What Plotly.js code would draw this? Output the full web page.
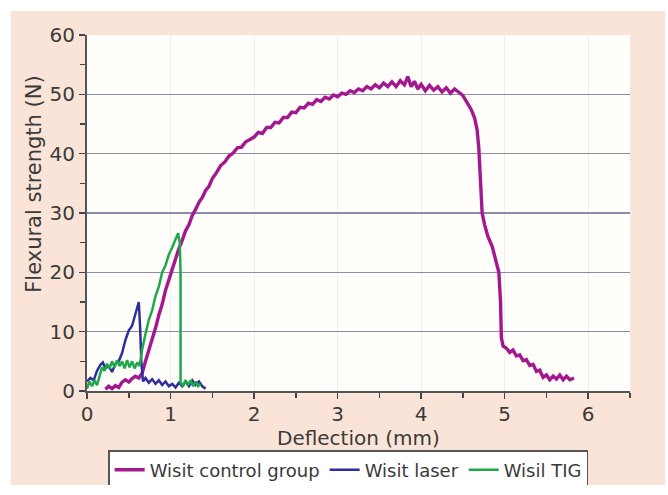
<!DOCTYPE html>
<html>
<head>
<meta charset="utf-8">
<script src="https://cdn.plot.ly/plotly-3.0.1.min.js"></script>
<style>
html,body{margin:0;padding:0;background:#ffffff;width:668px;height:495px;overflow:hidden;}
#chart{position:absolute;left:11px;top:11px;width:654px;height:474px;}
</style>
</head>
<body>
<div id="chart"></div>
<script>
// Wisit control group (magenta)
const ctrlX = [0.22,0.26,0.30,0.34,0.38,0.42,0.46,0.50,0.54,0.58,0.62,0.66,0.70,0.74,0.78,0.82,0.86,0.90,0.94,0.98,
1.02,1.06,1.10,1.14,1.18,1.22,1.26,1.30,1.34,1.38,1.42,1.46,1.50,1.55,1.60,1.65,1.70,1.75,1.80,1.85,1.90,1.95,
2.00,2.05,2.10,2.15,2.20,2.25,2.30,2.35,2.40,2.45,2.50,2.55,2.60,2.65,2.70,2.75,2.80,2.85,2.90,2.95,
3.00,3.05,3.10,3.15,3.20,3.25,3.30,3.35,3.40,3.45,3.50,3.55,3.60,3.65,3.70,3.75,3.80,3.84,3.88,3.92,3.96,
4.00,4.05,4.10,4.15,4.20,4.25,4.30,4.35,4.40,4.45,4.50,4.55,4.60,4.64,4.67,4.69,4.71,4.73,4.76,4.80,4.85,4.89,4.93,4.95,4.96,4.98,
5.02,5.06,5.10,5.14,5.18,5.22,5.26,5.30,5.34,5.38,5.42,5.46,5.50,5.54,5.58,5.62,5.66,5.70,5.74,5.78,5.83];
const ctrlY = [0.3,0.8,0.4,0.9,0.6,1.5,1.9,1.5,2.1,2.5,2.2,3.0,5.0,6.8,9.0,10.6,12.8,14.6,17.0,18.8,
20.6,22.0,24.0,25.4,27.0,28.0,29.6,30.6,31.8,32.6,33.8,34.5,35.8,36.8,38.0,38.6,39.6,40.1,41.0,41.1,42.0,42.4,
42.8,43.6,43.4,44.4,44.4,45.3,45.2,46.1,46.1,47.0,46.9,47.8,47.7,48.5,48.3,49.1,48.8,49.5,49.2,49.9,
49.6,50.2,50.0,50.6,50.3,50.9,50.6,51.3,50.9,51.6,51.1,51.9,51.3,52.1,51.3,52.3,51.6,53.0,51.3,52.2,50.9,
51.7,50.6,51.5,50.7,51.3,50.4,51.1,50.2,50.9,50.4,49.8,48.6,47.4,46.0,44.0,41.0,36.0,30.0,28.0,26.0,24.4,22.2,20.0,15.0,9.0,7.6,
7.2,6.5,6.9,5.9,6.1,5.1,5.3,4.3,4.5,3.3,3.5,2.3,2.7,1.9,2.5,2.0,2.7,1.9,2.5,1.9,2.2];

// Wisit laser (blue)
const laserX = [0.00,0.04,0.08,0.12,0.16,0.19,0.22,0.26,0.30,0.34,0.38,0.42,0.46,0.50,0.54,0.57,0.60,0.62,0.635,0.65,0.67,
0.70,0.74,0.78,0.82,0.86,0.90,0.94,0.98,1.02,1.06,1.10,1.14,1.18,1.22,1.26,1.30,1.34,1.38,1.42];
const laserY = [1.6,2.2,1.8,3.4,4.4,4.8,3.8,4.2,3.2,4.6,5.0,6.4,8.6,10.2,11.0,12.6,14.2,15.0,11.0,5.0,1.6,
2.2,1.4,2.0,1.2,1.8,1.0,1.6,0.8,1.2,0.6,1.4,0.8,1.6,0.8,1.8,1.0,1.6,0.8,0.4];

// Wisil TIG (green)
const tigX = [0.00,0.03,0.06,0.09,0.12,0.15,0.18,0.21,0.24,0.27,0.30,0.33,0.36,0.39,0.42,0.45,0.48,0.51,0.54,0.57,0.60,0.63,
0.66,0.70,0.74,0.78,0.82,0.86,0.90,0.94,0.98,1.02,1.06,1.09,1.11,1.12,1.12,1.15,1.18,1.21,1.24,1.27,1.30,1.33,1.36];
const tigY = [0.4,1.6,0.8,1.8,1.0,2.6,4.0,3.4,4.6,3.8,5.0,4.0,5.2,4.2,5.0,3.8,5.2,4.0,5.0,3.8,4.8,4.2,
7.0,9.6,12.0,13.6,16.0,17.6,20.0,21.2,23.0,24.2,25.6,26.6,25.0,20.0,1.4,0.8,1.8,1.0,1.8,0.8,1.6,0.8,1.2];

const seriesNames = ["Wisit control group","Wisit laser","Wisil TIG"];
const xTickVals = [0,1,2,3,4,5,6];
const yTickVals = [0,10,20,30,40,50,60];

const FONT = "DejaVu Sans, Arial, sans-serif";
const traces = [
  {x: ctrlX, y: ctrlY, name: seriesNames[0], type: "scatter", mode: "lines",
   line: {color: "#a4188f", width: 3.4}},
  {x: laserX, y: laserY, name: seriesNames[1], type: "scatter", mode: "lines",
   line: {color: "#2f2f9a", width: 2.5}},
  {x: tigX, y: tigY, name: seriesNames[2], type: "scatter", mode: "lines",
   line: {color: "#1fa84a", width: 2.5}}
];

const layout = {
  width: 654, height: 474,
  margin: {l: 76, r: 35, t: 24, b: 93.5, autoexpand: false},
  paper_bgcolor: "#fae4d7",
  plot_bgcolor: "#fffefb",
  font: {family: FONT, color: "#3a3a3a", size: 20},
  showlegend: true,
  legend: {
    orientation: "h", x: 0.039, xanchor: "left", y: -0.166, yanchor: "top",
    bgcolor: "#ffffff", bordercolor: "#555555", borderwidth: 1.5,
    font: {family: FONT, size: 18, color: "#3a3a3a"},
    traceorder: "normal", itemwidth: 30
  },
  xaxis: {
    range: [0, 6.5], tickvals: xTickVals, ticktext: xTickVals.map(String),
    ticks: "outside", ticklen: 6, tickwidth: 1.5, tickcolor: "#444",
    minor: {dtick: 0.5, ticks: "outside", ticklen: 5, tickwidth: 1.5, tickcolor: "#444", showgrid: false},
    showline: true, linecolor: "#555", linewidth: 2, ticklabelstandoff: -2,
    showgrid: true, gridcolor: "#f1efee", gridwidth: 1,
    zeroline: false, automargin: false, tickfont: {size: 20, family: FONT, color: "#3a3a3a"},
    title: {text: ""}
  },
  yaxis: {
    range: [0, 60], tickvals: yTickVals, ticktext: yTickVals.map(String),
    ticks: "outside", ticklen: 6, tickwidth: 1.5, tickcolor: "#444",
    minor: {dtick: 5, ticks: "outside", ticklen: 5, tickwidth: 1.5, tickcolor: "#444", showgrid: false},
    showline: true, linecolor: "#555", linewidth: 2,
    showgrid: true, gridcolor: "#8c8ca6", gridwidth: 1.5,
    zeroline: false, automargin: false, tickfont: {size: 20, family: FONT, color: "#3a3a3a"},
    title: {text: ""}
  },
  annotations: [{
    text: "Flexural strength (N)", xref: "paper", yref: "paper",
    x: -0.099, y: 0.58, xanchor: "center", yanchor: "middle", textangle: -90,
    showarrow: false, font: {size: 21, family: FONT, color: "#3a3a3a"}
  }, {
    text: "Deflection (mm)", xref: "paper", yref: "paper",
    x: 0.5, y: -0.131, xanchor: "center", yanchor: "middle",
    showarrow: false, font: {size: 20, family: FONT, color: "#3a3a3a"}
  }]
};

Plotly.newPlot("chart", traces, layout, {displayModeBar: false, staticPlot: true});
</script>
</body>
</html>
